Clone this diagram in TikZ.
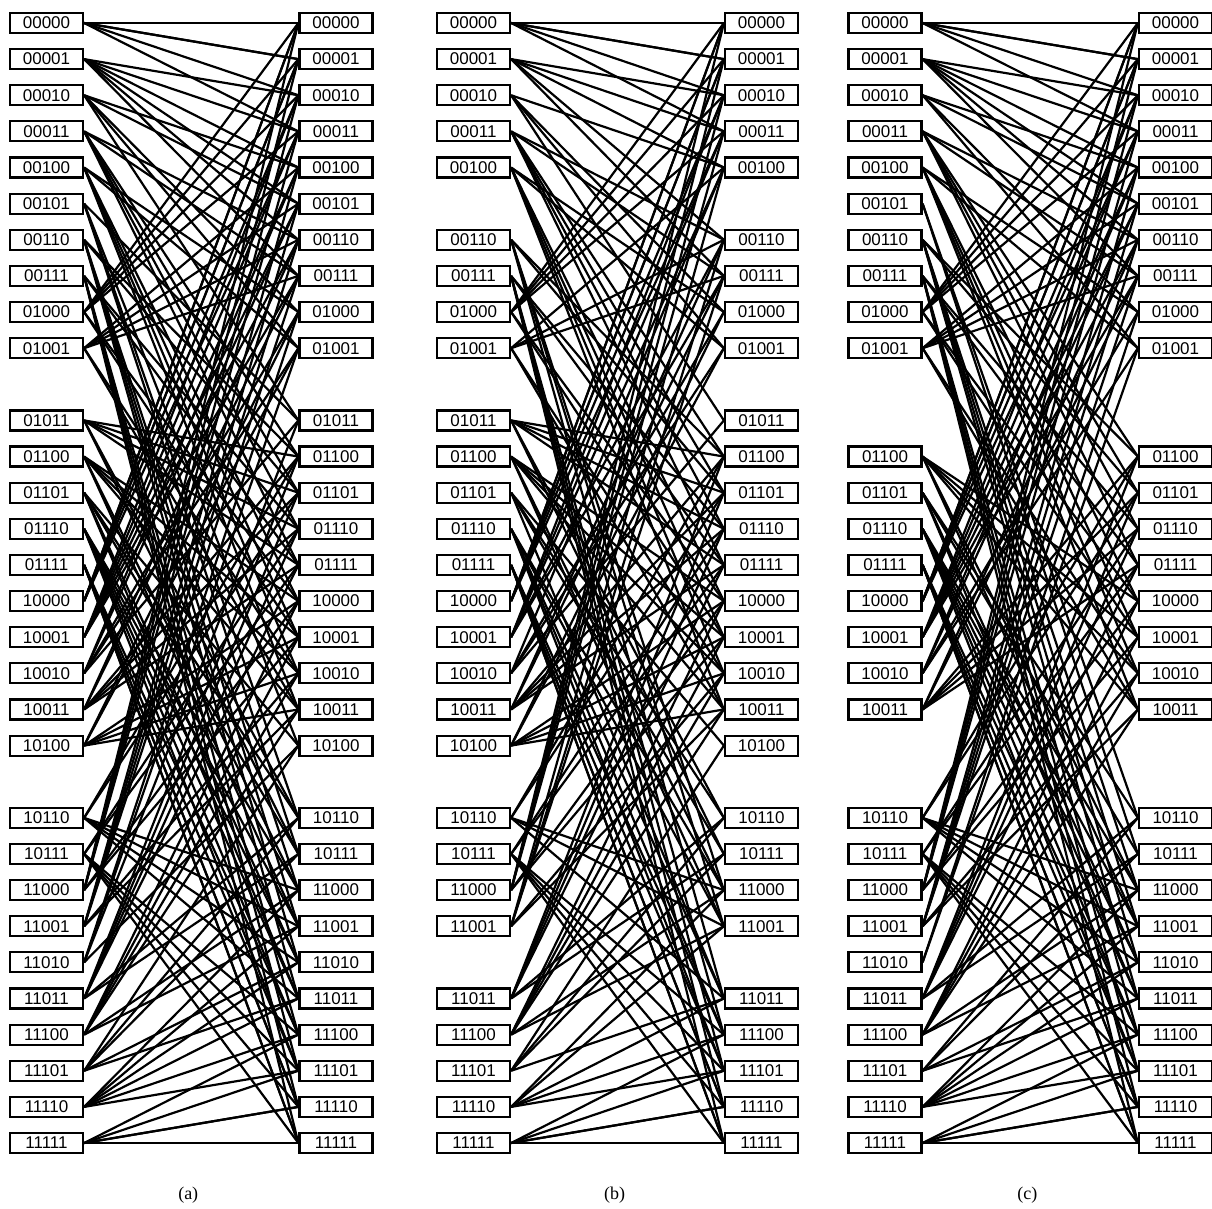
\documentclass[tikz,border=0pt]{standalone}
\usepackage{fontspec}
\setmainfont{Liberation Serif}
\newfontfamily\bitfont{Liberation Sans}
\tikzset{
  bitbox/.style={draw=black,line width=1.1pt,minimum width=36.5pt,minimum height=10pt,
    inner sep=0pt,fill=white,font=\bitfont\fontsize{8.5}{8.5}\selectfont},
  link/.style={draw=black,line width=1.1pt},
  caption/.style={font=\fontsize{9}{10}\selectfont}
}
% one panel: prefix, left x, right x, test for a missing node (in \m), caption
\newcommand\shufflepanel[5]{%
  \foreach \n in {0,...,31}{
    \edef\m{\n}
    \pgfmathtruncatemacro\gone{#4}
    \ifnum\gone=0
      \pgfmathtruncatemacro\ba{mod(int(\n/16),2)}
      \pgfmathtruncatemacro\bb{mod(int(\n/8),2)}
      \pgfmathtruncatemacro\bc{mod(int(\n/4),2)}
      \pgfmathtruncatemacro\bd{mod(int(\n/2),2)}
      \pgfmathtruncatemacro\be{mod(\n,2)}
      \node[bitbox] (#1l\n) at (#2,{23+36.13*\n}) {\ba\bb\bc\bd\be};
      \node[bitbox] (#1r\n) at (#3,{23+36.13*\n}) {\ba\bb\bc\bd\be};
    \fi
  }
  \foreach \n in {0,...,31}{
    \edef\m{\n}
    \pgfmathtruncatemacro\gone{#4}
    \ifnum\gone=0
      \foreach \k in {0,...,5}{
        \pgfmathtruncatemacro\t{\k<2 ? mod(2*\n+\k,32) : mod(4*\n+\k-2,32)}
        \edef\m{\t}
        \pgfmathtruncatemacro\gone{#4}
        \ifnum\gone=0
          \draw[link] (#1l\n.east) -- (#1r\t.west);
        \fi
      }
    \fi
  }
  \node[caption] (#1cap) at ({(#2+#3)/2-3},1195) {#5};
}

\begin{document}
\begin{tikzpicture}[x=0.5pt,y=-0.5pt]
  \useasboundingbox (0,0) rectangle (1212,1209);
  \shufflepanel{a}{46.5}{336}{(\m==10)||(\m==21)}{(a)}
  \shufflepanel{b}{473.5}{761.5}{(\m==5)||(\m==10)||(\m==21)||(\m==26)}{(b)}
  \shufflepanel{c}{885}{1175.5}{(\m==10)||(\m==11)||(\m==20)||(\m==21)}{(c)}
\end{tikzpicture}
\end{document}
